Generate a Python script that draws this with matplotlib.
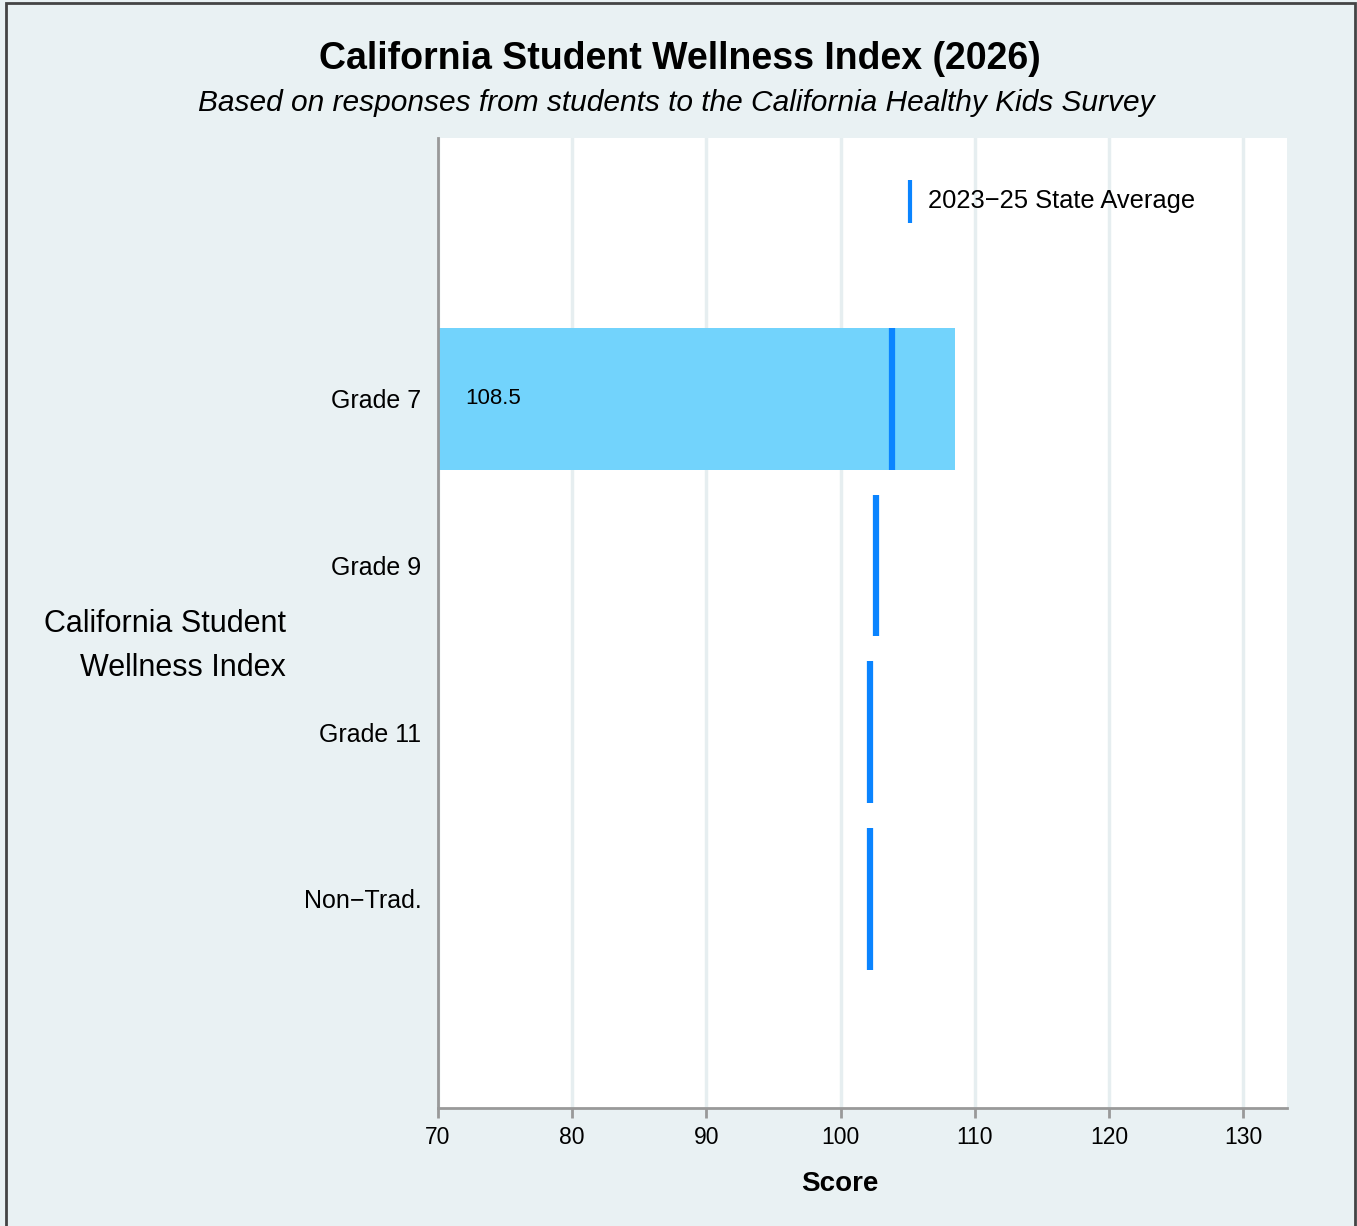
import matplotlib
matplotlib.use('Agg')
from matplotlib import pyplot as plt
from matplotlib.patches import Rectangle

plt.rcParams['font.family'] = ['Liberation Sans', 'DejaVu Sans']

# data
groups = ['Grade 7', 'Grade 9', 'Grade 11', 'Non\u2212Trad.']
scores = [108.5, None, None, None]
state_avg = [103.8, 102.6, 102.2, 102.15]
ticks = [70, 80, 90, 100, 110, 120, 130]

bg = '#e9f1f3'
bar_color = '#72d3fc'
avg_color = '#0a84ff'

fig = plt.figure(figsize=(13.57, 12.26), dpi=100, facecolor=bg)
ax = fig.add_axes([438 / 1357, 1 - 1108 / 1226, (1287 - 438) / 1357, (1108 - 138) / 1226])
ax.set_facecolor('white')

# border round the panel
fig.patches.append(Rectangle((6 / 1357, -0.05), (1355 - 6) / 1357, 1.05 - 3 / 1226,
                             transform=fig.transFigure, fill=False,
                             edgecolor='#444444', linewidth=2))

ypos = list(range(len(groups)))
bh = 0.85
for y, v in zip(ypos, scores):
    if v is not None:
        ax.barh(y, v - 70, left=70, height=bh, color=bar_color, zorder=2)
        ax.text(72, y, '%.1f' % v, va='center', ha='left', fontsize=16, zorder=4)
for y, a in zip(ypos, state_avg):
    ax.plot([a, a], [y - bh / 2, y + bh / 2], color=avg_color, linewidth=4.5,
            solid_capstyle='butt', zorder=3)

# legend entry
ax.plot([105.2, 105.2], [-1.315, -1.055], color=avg_color, linewidth=3,
        solid_capstyle='butt', zorder=3)
ax.text(106.5, -1.185, '2023\u221225 State Average', va='center', ha='left', fontsize=18.4)

ax.set_xlim(70, 133.25)
ax.set_ylim(4.254, -1.566)
ax.set_xticks(ticks)
ax.set_yticks(ypos)
ax.set_yticklabels(groups, fontsize=18)
ax.tick_params(axis='x', labelsize=16.5, length=7, width=2, color='#999999', pad=6)
ax.tick_params(axis='y', length=0, pad=12)
ax.grid(axis='x', color='#e6eef0', linewidth=2.5, zorder=0)
ax.set_axisbelow(True)
for s in ['top', 'right']:
    ax.spines[s].set_visible(False)
for s in ['left', 'bottom']:
    ax.spines[s].set_color('#999999')
    ax.spines[s].set_linewidth(2)

fig.text(840 / 1357, 1 - 1184 / 1226, 'Score', ha='center', va='center',
         fontsize=20, fontweight='bold')

fig.text(286 / 1357, 1 - 646 / 1226, 'California Student\nWellness Index', ha='right',
         va='center', fontsize=22, linespacing=1.62)

fig.text(680 / 1357, 1 - 59 / 1226, 'California Student Wellness Index (2026)',
         ha='center', va='center', fontsize=27, fontweight='bold')
fig.text(676 / 1357, 1 - 103 / 1226,
         'Based on responses from students to the California Healthy Kids Survey',
         ha='center', va='center', fontsize=21.5, style='italic')

fig.savefig('out.png', dpi=100, facecolor=bg)
